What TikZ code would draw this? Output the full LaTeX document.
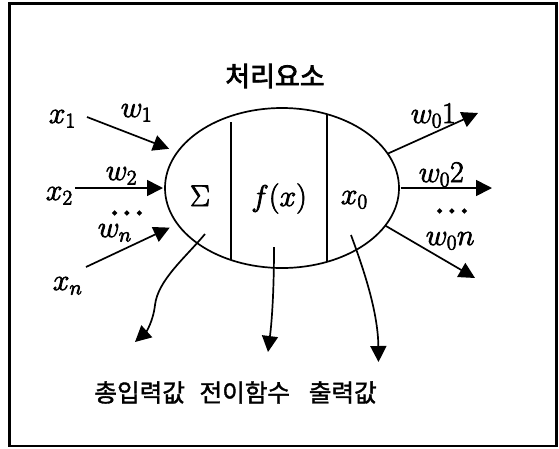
\RequirePackage{fix-cm}
\documentclass[tikz,border=0pt]{standalone}
\usepackage{fontspec}
\newfontfamily\kr{Noto Sans CJK KR}[FakeBold=1.5]
\newfontfamily\krt{Noto Sans CJK KR}[FakeBold=3]
\newcommand\heavyon{\special{pdf:literal direct 2 Tr 0.7 w}}
\newcommand\heavieron{\special{pdf:literal direct 2 Tr 1.8 w}}
\newcommand\heavyoff{\special{pdf:literal direct 0 Tr}}
\usetikzlibrary{arrows.meta,shapes.geometric}
\begin{document}
\begin{tikzpicture}[x=1pt,y=-1pt,
  line width=1.7pt,
  arr/.style={-{Triangle[length=16pt,width=16pt]}},
  lbl/.style={inner sep=0pt, font=\fontsize{30}{35}\selectfont,
    execute at begin node=\heavyon, execute at end node=\heavyoff},
  dotsstyle/.style={inner sep=0pt, font=\fontsize{28}{33}\selectfont,
    execute at begin node=\heavieron, execute at end node=\heavyoff},
  kor/.style={inner sep=0pt, font=\kr\fontsize{24.6}{29}\selectfont},
  cellstyle/.style={ellipse, draw, minimum width=234pt, minimum height=160pt, inner sep=0pt, outer sep=0pt},
]
\useasboundingbox (0,0) rectangle (559,448);
\draw[line width=2.2pt] (9.5,3.5) rectangle (556.5,446);

% title
\node[kor, font=\krt\fontsize{27}{31}\selectfont] (title) at (275,76) {처리요소};

% processing element
\node[cellstyle] (cell) at (282,188) {};
\draw (231,122) -- (231,260);
\draw (327,114.5) -- (327,261.5);
\node[lbl, anchor=base] (sig) at (200,206) {$\Sigma$};
\node[lbl, anchor=base] (fx) at (279,206) {$f(x)$};
\node[lbl, anchor=base west] (x0) at (340,204) {$x_0$};

% inputs
\node[lbl, anchor=base west] (x1) at (48,123) {$x_1$};
\node[lbl, anchor=base west] (w1) at (120,117) {$w_1$};
\node[lbl, anchor=base west] (w2) at (105,180) {$w_2$};
\node[lbl, anchor=base west] (x2) at (45,200) {$x_2$};
\node[dotsstyle, anchor=base] (dl) at (127,220) {$\cdots$};
\node[lbl, anchor=base west] (wn) at (97,237) {$w_n$};
\node[lbl, anchor=base west] (xn) at (52,290) {$x_n$};

\coordinate (s1) at (87,117);
\coordinate (s2) at (75,188);
\coordinate (sn) at (86,267);
\draw[arr, shorten >=9pt] (s1) -- (cell.161.8);
\draw[arr, shorten >=2pt] (s2) -- (cell.west);
\draw[arr, shorten >=8.6pt] (sn) -- (cell.199.3);

% outputs
\coordinate (e1) at (478,113);
\coordinate (e2) at (492,188);
\coordinate (en) at (475,278);
\draw[arr] (cell.18.4) -- (e1);
\draw[arr, shorten <=1.5pt] (cell.east) -- (e2);
\draw[arr] (cell.-20.25) -- (en);
\node[lbl, anchor=base west] (wo1) at (410,123) {$w_0 1$};
\node[lbl, anchor=base west] (wo2) at (418,182) {$w_0 2$};
\node[dotsstyle, anchor=base] (dr) at (452,218) {$\cdots$};
\node[lbl, anchor=base west] (won) at (425,245) {$w_0 n$};

% bottom labels
\node[kor] (t1) at (139.7,392.5) {총입력값};
\node[kor] (t2) at (244.8,392.5) {전이함수};
\node[kor] (t3) at (342.8,392.5) {출력값};

\coordinate (c1) at (205,234);
\coordinate (c2) at (274,247);
\coordinate (c3) at (351,235);
\coordinate (h1) at (135,342);
\coordinate (h2) at (268,352);
\coordinate (h3) at (378.5,362);
\draw[arr] (c1) .. controls (185,258) and (158,280) .. (155,305)
              .. controls (153,322) and (146,332) .. (h1);
\draw[arr] (c2) .. controls (274,290) and (272,320) .. (h2);
\draw[arr] (c3) .. controls (362,265) and (378,310) .. (h3);
\end{tikzpicture}
\end{document}
